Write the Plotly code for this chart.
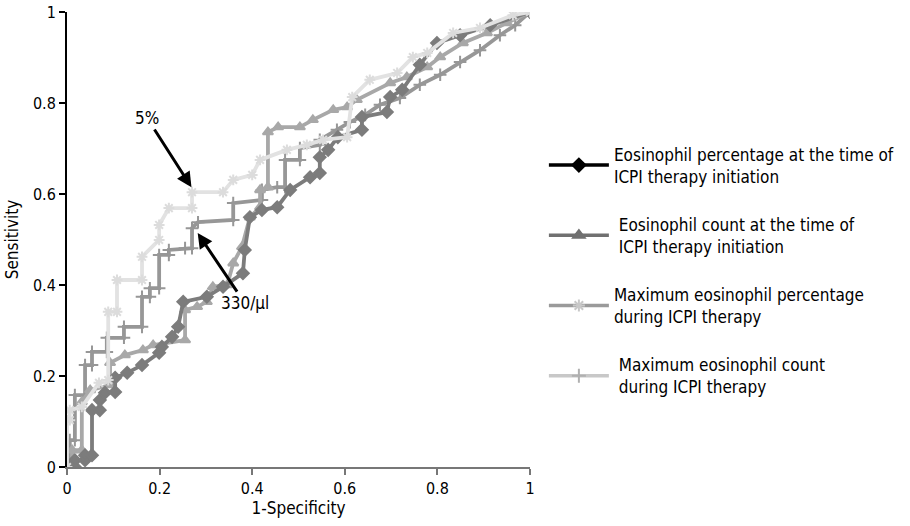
import plotly.graph_objects as go

# ---- data (1-specificity, sensitivity) ----
s1_x = [0, 0.017, 0.017, 0.039, 0.039, 0.054, 0.054, 0.071, 0.071, 0.082, 0.104, 0.104, 0.130, 0.162,
        0.199, 0.205, 0.227, 0.240, 0.251, 0.302, 0.337, 0.380, 0.384, 0.395, 0.421, 0.454, 0.482,
        0.525, 0.546, 0.546, 0.564, 0.585, 0.637, 0.637, 0.691, 0.698, 0.724, 0.762, 0.799, 0.849,
        0.914, 1]
s1_y = [0, 0, 0.015, 0.015, 0.026, 0.026, 0.125, 0.125, 0.147, 0.163, 0.165, 0.196, 0.207, 0.224,
        0.251, 0.264, 0.286, 0.308, 0.363, 0.374, 0.396, 0.426, 0.477, 0.549, 0.565, 0.571, 0.609,
        0.637, 0.646, 0.681, 0.697, 0.725, 0.741, 0.769, 0.780, 0.813, 0.829, 0.884, 0.932, 0.949,
        0.971, 1]

s2_x = [0, 0.011, 0.011, 0.032, 0.032, 0.050, 0.093, 0.093, 0.125, 0.164, 0.186, 0.255, 0.255, 0.281,
        0.302, 0.315, 0.346, 0.359, 0.378, 0.395, 0.417, 0.417, 0.434, 0.434, 0.456, 0.503, 0.531,
        0.575, 0.605, 0.626, 0.698, 0.734, 0.778, 0.806, 0.855, 0.907, 0.950, 1]
s2_y = [0, 0, 0.037, 0.037, 0.143, 0.169, 0.180, 0.229, 0.246, 0.257, 0.268, 0.279, 0.345, 0.352,
        0.363, 0.396, 0.400, 0.448, 0.484, 0.549, 0.571, 0.609, 0.615, 0.736, 0.747, 0.747, 0.763,
        0.785, 0.791, 0.807, 0.844, 0.857, 0.879, 0.901, 0.932, 0.954, 0.976, 1]

s3_x = [0, 0, 0.006, 0.006, 0.032, 0.069, 0.089, 0.089, 0.108, 0.108, 0.162, 0.162, 0.199, 0.199,
        0.220, 0.270, 0.270, 0.337, 0.359, 0.400, 0.417, 0.475, 0.518, 0.553, 0.605, 0.616, 0.654,
        0.713, 0.747, 0.778, 0.834, 0.892, 0.963, 1]
s3_y = [0, 0.103, 0.103, 0.125, 0.132, 0.185, 0.191, 0.341, 0.341, 0.411, 0.411, 0.462, 0.499, 0.532,
        0.569, 0.569, 0.604, 0.604, 0.631, 0.642, 0.675, 0.697, 0.708, 0.719, 0.725, 0.813, 0.851,
        0.866, 0.901, 0.910, 0.954, 0.965, 0.993, 1]

s4_x = [0, 0.006, 0.006, 0.017, 0.017, 0.039, 0.039, 0.054, 0.054, 0.086, 0.086, 0.123, 0.123, 0.162,
        0.162, 0.179, 0.179, 0.199, 0.199, 0.220, 0.220, 0.255, 0.270, 0.270, 0.283, 0.359, 0.359,
        0.421, 0.421, 0.454, 0.471, 0.471, 0.503, 0.503, 0.546, 0.546, 0.583, 0.611, 0.644, 0.676,
        0.719, 0.762, 0.806, 0.849, 0.892, 0.935, 0.968, 1]
s4_y = [0, 0, 0.059, 0.059, 0.158, 0.158, 0.224, 0.224, 0.253, 0.253, 0.284, 0.284, 0.308, 0.308,
        0.374, 0.374, 0.393, 0.393, 0.466, 0.466, 0.477, 0.481, 0.481, 0.525, 0.538, 0.543, 0.580,
        0.587, 0.609, 0.615, 0.615, 0.675, 0.675, 0.701, 0.708, 0.719, 0.741, 0.758, 0.774, 0.796,
        0.811, 0.840, 0.862, 0.890, 0.916, 0.949, 0.971, 1]

series_names = [
    "Eosinophil percentage at the time of<br>ICPI therapy initiation",
    " Eosinophil count at the time of<br> ICPI therapy initiation",
    "Maximum eosinophil percentage<br>during ICPI therapy",
    " Maximum eosinophil count<br> during ICPI therapy",
]

ticks = [0, 0.2, 0.4, 0.6, 0.8, 1]
tick_text = ["0", "0.2", "0.4", "0.6", "0.8", "1"]

# annotation points: (label, tip_x, tip_y, text_x, text_y)
callouts = [("5%", 0.270, 0.613, 0.173, 0.767),
            ("330/µl", 0.281, 0.516, 0.384, 0.360)]

FONT = "Liberation Sans Narrow, DejaVu Sans Condensed, Arial Narrow, sans-serif"

line_cols = ["#7c7c7c", "#a8a8a8", "#e2e2e2", "#979797"]
mark_cols = ["#7c7c7c", "#a8a8a8", "#dcdcdc", "#979797"]
symbols = ["diamond", "triangle-up", "asterisk-open", "cross-thin-open"]
leg_cols = ["#000000", "#707070", "#9a9a9a", "#c8c8c8"]
leg_mark = ["#000000", "#707070", "#c8c8c8", "#b0b0b0"]

fig = go.Figure()
data = [(s1_x, s1_y), (s2_x, s2_y), (s3_x, s3_y), (s4_x, s4_y)]
draw_order = [3, 1, 0, 2]
for i in draw_order:
    xs, ys = data[i]
    fig.add_trace(go.Scatter(
        x=xs, y=ys, mode="lines+markers", showlegend=False,
        line=dict(color=line_cols[i], width=3.8),
        marker=dict(symbol=symbols[i], size=9, color=mark_cols[i],
                    line=dict(color=mark_cols[i], width=2)),
    ))

# legend entries
for i in range(4):
    fig.add_trace(go.Scatter(
        x=[None], y=[None], mode="lines+markers", name=series_names[i],
        legendgroup="g%d" % i,
        line=dict(color=leg_cols[i], width=3.5),
        marker=dict(symbol=symbols[i], size=10, color=leg_mark[i],
                    line=dict(color=leg_mark[i], width=2)),
    ))

for label, tx, ty, ax_, ay_ in callouts:
    fig.add_annotation(x=tx, y=ty, ax=ax_, ay=ay_, xref="x", yref="y", axref="x", ayref="y",
                       text=label, showarrow=True, arrowhead=2, arrowsize=1, arrowwidth=3,
                       arrowcolor="black", standoff=1,
                       font=dict(family=FONT, size=17, color="black"))

fig.update_layout(
    width=910, height=526,
    margin=dict(l=67, r=380, t=12, b=59, autoexpand=False),
    paper_bgcolor="white", plot_bgcolor="white",
    font=dict(family=FONT, size=16, color="black"),
    legend=dict(x=1.03, y=0.432, xanchor="left", yanchor="middle",
                itemwidth=60, tracegroupgap=23, font=dict(family=FONT, size=17),
                bgcolor="rgba(0,0,0,0)"),
    xaxis=dict(range=[0, 1], tickvals=ticks, ticktext=tick_text, showgrid=False, zeroline=False,
               automargin=False,
               showline=True, linecolor="#777777", linewidth=2, ticks="outside", ticklen=6,
               tickcolor="#777777", tickwidth=2,
               title=dict(text="1-Specificity", standoff=4, font=dict(size=17))),
    yaxis=dict(range=[0, 1], tickvals=ticks, ticktext=tick_text, showgrid=False, zeroline=False,
               automargin=False,
               showline=True, linecolor="black", linewidth=2, ticks="outside", ticklen=6,
               tickcolor="black", tickwidth=1.5,
               title=dict(text="Sensitivity", standoff=10, font=dict(size=17))),
)

fig.write_html("out.html")
